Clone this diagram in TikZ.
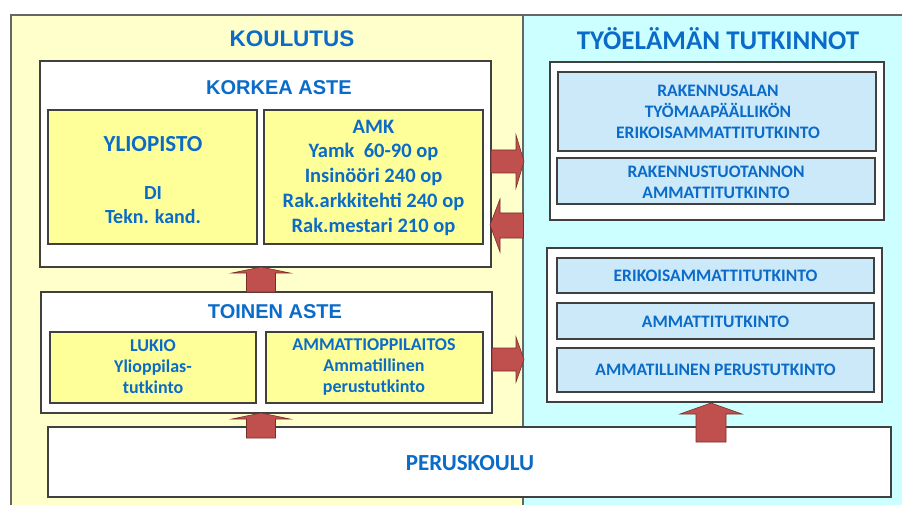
\documentclass[tikz,border=0pt]{standalone}
\usepackage{fontspec}
\setmainfont{Carlito}
\newfontfamily\arialf{Liberation Sans}
\definecolor{txt}{HTML}{0A6BC8}
\definecolor{panelY}{HTML}{FFFFCC}
\definecolor{panelC}{HTML}{CCFFFF}
\definecolor{boxY}{HTML}{FFFF99}
\definecolor{boxB}{HTML}{CCE9FA}
\definecolor{arrF}{HTML}{C0504D}
\definecolor{arrD}{HTML}{7A2E2C}
\definecolor{edge}{HTML}{404040}
\tikzset{
  panel/.style={draw=gray!80!black, line width=1.2pt},
  frame/.style={draw=edge, fill=white, line width=1.1pt},
  ybox/.style={draw=edge, fill=boxY, line width=1.1pt},
  bbox/.style={draw=edge, fill=boxB, line width=1.1pt},
  ttl/.style={text=txt, font=\arialf\bfseries\fontsize{20}{24}\selectfont},
  lbl/.style={text=txt, align=center, font=\bfseries\fontsize{17.5}{21}\selectfont},
  blockarrow/.style={fill=arrF, draw=arrD, line width=0.6pt, line join=miter},
}
\begin{document}
\begin{tikzpicture}[x=1pt,y=-1pt]
\useasboundingbox (0,0) rectangle (902,505);
\begin{scope}
\clip (0,0) rectangle (902,505);
% panels
\draw[panel, fill=panelY] (11,15) rectangle (523,520);
\draw[panel, fill=panelC] (523,15) rectangle (912,520);
\end{scope}
\node[text=txt, font=\arialf\bfseries\fontsize{22.5}{26}\selectfont] (koul) at (292,39) {KOULUTUS};
\node[text=txt, font=\bfseries\fontsize{27}{30}\selectfont] (tyo) at (718,39) {TYÖELÄMÄN TUTKINNOT};
% korkea aste
\draw[frame] (40,61) rectangle (491,267);
\node[ttl] (korkeaT) at (279,88) {KORKEA ASTE};
\draw[ybox] (48,110) rectangle (257,244);
\node[text=txt, font=\bfseries\fontsize{23}{26}\selectfont] (ylio) at (153,144) {YLIOPISTO};
\node[lbl, font=\bfseries\fontsize{20}{24}\selectfont] (di) at (153,205) {DI\\Tekn. kand.};
\draw[ybox] (264,110) rectangle (483,244);
\node[lbl, font=\bfseries\fontsize{20.5}{24.75}\selectfont] (amk) at (373.5,177.5) {AMK\\Yamk\ \ 60-90 op\\Insinööri 240 op\\Rak.arkkitehti 240 op\\Rak.mestari 210 op};
% toinen aste
\draw[frame] (41,292) rectangle (492,413);
\node[ttl] (toinenT) at (275,312) {TOINEN ASTE};
\draw[ybox] (50,332) rectangle (256,403);
\node[lbl, font=\bfseries\fontsize{18}{21}\selectfont] (lukio) at (153,367) {LUKIO\\Ylioppilas-\\tutkinto};
\draw[ybox] (266,332) rectangle (483,403);
\node[lbl, font=\bfseries\fontsize{18}{21}\selectfont] (amo) at (374,367) {AMMATTIOPPILAITOS\\Ammatillinen\\perustutkinto};
% peruskoulu
\draw[frame] (48,427) rectangle (891,497);
\node[text=txt, font=\bfseries\fontsize{23}{26}\selectfont] (perus) at (470,463) {PERUSKOULU};
% tyoelama upper
\draw[frame] (550,62) rectangle (884,220);
\draw[bbox] (558,72) rectangle (876,151);
\node[lbl] (b1) at (718,112) {RAKENNUSALAN\\TYÖMAAPÄÄLLIKÖN\\ERIKOISAMMATTITUTKINTO};
\draw[bbox] (557,158) rectangle (875,204);
\node[lbl] (b2) at (716,182.5) {RAKENNUSTUOTANNON\\AMMATTITUTKINTO};
% tyoelama lower
\draw[frame] (547,248) rectangle (882,402);
\draw[bbox] (557,258) rectangle (874,293);
\node[lbl] (b3) at (715.5,276) {ERIKOISAMMATTITUTKINTO};
\draw[bbox] (557,303) rectangle (874,339);
\node[lbl] (b4) at (715.5,322) {AMMATTITUTKINTO};
\draw[bbox] (557,348) rectangle (874,392);
\node[lbl] (b5) at (715.5,370) {AMMATILLINEN PERUSTUTKINTO};
% arrows
\coordinate (u1) at (261,267);
\coordinate (u2) at (261,413);
\coordinate (u3) at (711,403);
\foreach \c in {u1,u2}
  \draw[blockarrow] (\c) -- ++(29,6) -- ++(-14.5,0) -- ++(0,19) -- ++(-29,0) -- ++(0,-19) -- ++(-14.5,0) -- cycle;
\draw[blockarrow] (u3) -- ++(31,11) -- ++(-16,0) -- ++(0,28) -- ++(-30,0) -- ++(0,-28) -- ++(-16,0) -- cycle;
\coordinate (r1) at (524,161.5);
\draw[blockarrow] (r1) -- ++(-8,-26.5) -- ++(0,15) -- ++(-25,0) -- ++(0,23) -- ++(25,0) -- ++(0,15) -- cycle;
\coordinate (l1) at (490,225);
\draw[blockarrow] (l1) -- ++(10,-26) -- ++(0,14) -- ++(23.5,0) -- ++(0,25) -- ++(-23.5,0) -- ++(0,14) -- cycle;
\coordinate (r2) at (524,359.5);
\draw[blockarrow] (r2) -- ++(-8,-22.5) -- ++(0,11) -- ++(-24,0) -- ++(0,23) -- ++(24,0) -- ++(0,11) -- cycle;
\end{tikzpicture}
\end{document}
